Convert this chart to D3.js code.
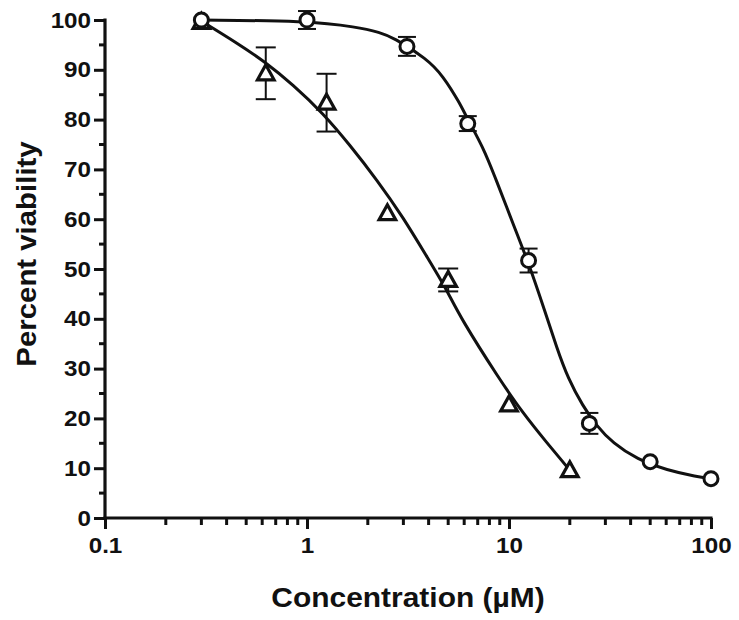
<!DOCTYPE html>
<html>
<head>
<meta charset="utf-8">
<script src="https://cdn.jsdelivr.net/npm/d3@7/dist/d3.min.js"></script>
<style>
  html, body { margin: 0; padding: 0; background: #fff; }
  svg { display: block; }
  text { font-family: "Liberation Sans", Arial, sans-serif; font-weight: bold; fill: #111; }
</style>
</head>
<body>
<svg id="chart" width="739" height="620"></svg>
<script>
// ---- Data ----
const xTickValues = [0.1, 1, 10, 100];
const xTickLabels = ["0.1", "1", "10", "100"];
const yTickValues = [0, 10, 20, 30, 40, 50, 60, 70, 80, 90, 100];
const xTitle = "Concentration (µM)";
const yTitle = "Percent viability";

// Series 1: circles
const circleConc = [0.3, 1, 3.125, 6.25, 12.5, 25, 50, 100];
const circleMean = [100, 100, 94.7, 79.2, 51.7, 19.0, 11.3, 7.9];
const circleErr  = [0, 1.8, 1.9, 1.5, 2.4, 2.1, 0, 0];

// Series 2: triangles
const triConc = [0.3, 0.625, 1.25, 2.5, 5, 10, 20];
const triMean = [99.6, 89.3, 83.4, 61.2, 47.8, 22.8, 9.6];
const triErr  = [0, 5.2, 5.8, 0, 2.3, 0, 0];

// Fitted curves
const circleFitConc = [0.3, 1, 1.77, 2.3, 2.67, 3.93, 4.71, 5.71, 6.25, 7.43, 8.52, 9.77, 10.96, 12.5, 15.07, 17.2, 19.6, 23.2, 27, 32.7, 43.0, 60.6, 85.3, 100];
const circleFitVal  = [100, 99.8, 98.6, 97.5, 96.5, 92.2, 88.8, 83.3, 80, 74.5, 68.5, 62.3, 57, 51.2, 41.5, 34.3, 28, 22.5, 18.6, 15, 11.8, 9.6, 8.3, 7.9];

const triFitConc = [0.3, 0.45, 0.62, 0.852, 1.2, 1.63, 2.22, 2.99, 3.93, 4.93, 5.71, 9.02, 11.7, 15.4, 20];
const triFitVal  = [99.8, 95.4, 91.6, 87, 81.3, 74.9, 67.9, 60.4, 52.4, 45.8, 40.4, 27.7, 21.1, 15.1, 9.6];

// ---- Chart ----
const ink = "#111";
const svg = d3.select("#chart");
const x = d3.scaleLog().domain([0.1, 100]).range([105, 711]);
const y = d3.scaleLinear().domain([0, 100]).range([518, 20]);

// minor ticks
const xMinor = [];
[0.1, 1, 10].forEach(d => { for (let k = 2; k <= 9; k++) xMinor.push(d * k); });
const yMinor = d3.range(5, 100, 10);

const g = svg.append("g");

// Y axis
const yAxis = g.append("g").attr("transform", `translate(${x(0.1)},0)`)
  .call(d3.axisLeft(y).tickValues(yTickValues).tickSize(11).tickPadding(3).tickFormat(d3.format("d")));
yAxis.append("g").selectAll("line").data(yMinor).join("line")
  .attr("x1", -6).attr("x2", 0).attr("y1", d => y(d)).attr("y2", d => y(d));

// X axis
const xAxis = g.append("g").attr("transform", `translate(0,${y(0)})`)
  .call(d3.axisBottom(x).tickValues(xTickValues).tickSize(11).tickPadding(8)
    .tickFormat((d, i) => xTickLabels[i]));
xAxis.append("g").selectAll("line").data(xMinor).join("line")
  .attr("x1", d => x(d)).attr("x2", d => x(d)).attr("y1", 0).attr("y2", 7);

[yAxis, xAxis].forEach(a => {
  a.selectAll("line").attr("stroke", ink).attr("stroke-width", 3);
  a.selectAll(".tick text").style("font-size", "22px").attr("fill", ink);
  a.select(".domain").remove();
});
// stretch tick labels slightly horizontally (anchored at their own position)
yAxis.selectAll(".tick text").each(function () {
  const t = d3.select(this), tx = +t.attr("x");
  t.attr("x", null).attr("transform", `translate(${tx},0) scale(1.1,1)`);
});
xAxis.selectAll(".tick text").attr("transform", "scale(1.1,1)");

// axis lines
g.append("line").attr("x1", x(0.1)).attr("x2", x(0.1)).attr("y1", y(100) - 1.5).attr("y2", y(0) + 1.5)
  .attr("stroke", ink).attr("stroke-width", 3.2);
g.append("line").attr("x1", x(0.1) - 1.5).attr("x2", x(100) + 1.5).attr("y1", y(0)).attr("y2", y(0))
  .attr("stroke", ink).attr("stroke-width", 3.2);

// Axis titles
g.append("text").attr("transform", "translate(408,607) scale(1.07,1)").attr("text-anchor", "middle")
  .style("font-size", "28px").text(xTitle);
g.append("text").attr("transform", "translate(36,254) rotate(-90) scale(1.05,1)").attr("text-anchor", "middle")
  .style("font-size", "28px").text(yTitle);

// Curves
const line = d3.line().x(d => x(d[0])).y(d => y(d[1])).curve(d3.curveBasis);
g.append("path").datum(circleFitConc.map((c, i) => [c, circleFitVal[i]]))
  .attr("d", line).attr("fill", "none").attr("stroke", ink).attr("stroke-width", 3);
g.append("path").datum(triFitConc.map((c, i) => [c, triFitVal[i]]))
  .attr("d", line).attr("fill", "none").attr("stroke", ink).attr("stroke-width", 3);

// Error bars
function errorBars(conc, mean, err, cap) {
  const data = conc.map((c, i) => ({ c, m: mean[i], e: err[i] })).filter(d => d.e > 0);
  const eg = g.append("g").attr("stroke", ink).attr("stroke-width", 2);
  eg.selectAll(".v").data(data).join("line")
    .attr("x1", d => x(d.c)).attr("x2", d => x(d.c))
    .attr("y1", d => y(d.m + d.e)).attr("y2", d => y(d.m - d.e));
  eg.selectAll(".t").data(data).join("line")
    .attr("x1", d => x(d.c) - cap).attr("x2", d => x(d.c) + cap)
    .attr("y1", d => y(d.m + d.e)).attr("y2", d => y(d.m + d.e));
  eg.selectAll(".b").data(data).join("line")
    .attr("x1", d => x(d.c) - cap).attr("x2", d => x(d.c) + cap)
    .attr("y1", d => y(d.m - d.e)).attr("y2", d => y(d.m - d.e));
}
errorBars(circleConc, circleMean, circleErr, 9);
errorBars(triConc, triMean, triErr, 10);

// Markers
g.append("g").selectAll("path").data(triConc.map((c, i) => [c, triMean[i]])).join("path")
  .attr("transform", d => `translate(${x(d[0])},${y(d[1])})`)
  .attr("d", "M0,-8.5L8.3,6.5L-8.3,6.5Z")
  .attr("fill", "#fff").attr("stroke", ink).attr("stroke-width", 3.2).attr("stroke-linejoin", "miter");
g.append("g").selectAll("circle").data(circleConc.map((c, i) => [c, circleMean[i]])).join("circle")
  .attr("cx", d => x(d[0])).attr("cy", d => y(d[1])).attr("r", 7)
  .attr("fill", "#fff").attr("stroke", ink).attr("stroke-width", 3);
</script>
</body>
</html>
